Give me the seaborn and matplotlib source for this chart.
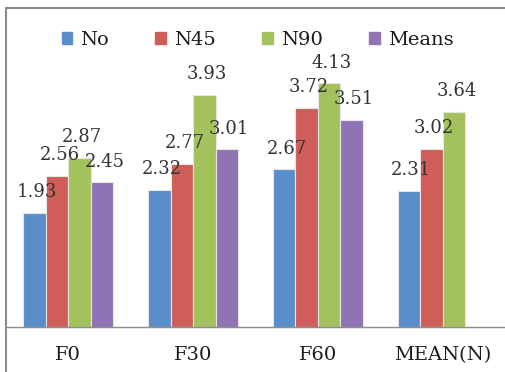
import matplotlib
matplotlib.use("Agg")
import matplotlib.pyplot as plt
import seaborn as sns
import pandas as pd
from matplotlib.patches import Rectangle

groups = ["F0", "F30", "F60", "MEAN(N)"]
series = ["No", "N45", "N90", "Means"]
no_vals = [1.93, 2.32, 2.67, 2.31]
n45_vals = [2.56, 2.77, 3.72, 3.02]
n90_vals = [2.87, 3.93, 4.13, 3.64]
means_vals = [2.45, 3.01, 3.51, None]
colors = ["#5A8ECB", "#CF5E59", "#A3C25E", "#8F73B5"]

rows = []
for s, vals in zip(series, [no_vals, n45_vals, n90_vals, means_vals]):
    for g, v in zip(groups, vals):
        if v is not None:
            rows.append({"group": g, "series": s, "value": v})
df = pd.DataFrame(rows)

sns.set_theme(style="white")
plt.rcParams["font.family"] = ["DejaVu Serif"]

fig = plt.figure(figsize=(5.05, 3.72), dpi=100)
ax = fig.add_axes([6 / 505, (372 - 327) / 372, 1 - 6 / 505, (327 - 32) / 372])

sns.barplot(data=df, x="group", y="value", hue="series", order=groups,
            hue_order=series, palette=colors, width=0.72, ax=ax,
            saturation=1, edgecolor="#e6e6e6", linewidth=0.8, legend=False)

ax.set_ylim(0, 5)
ax.set_xlim(-0.5, 3.5)
ax.set_xlabel("")
ax.set_ylabel("")
ax.set_yticks([])
for sp in ["top", "right", "left"]:
    ax.spines[sp].set_visible(False)
ax.spines["bottom"].set_color("#8c8c8c")
ax.spines["bottom"].set_linewidth(1.0)
ax.tick_params(axis="x", length=0, pad=14, labelsize=14, colors="#1a1a1a")

for cont in ax.containers:
    for bar in cont:
        h = bar.get_height()
        if h and h > 0:
            ax.text(bar.get_x() + bar.get_width() / 2 + 0.02, h + 0.2, f"{h:.2f}",
                    ha="center", va="bottom", fontsize=13, color="#333333")

# legend
handles = [Rectangle((0, 0), 1, 1, color=c) for c in colors]
leg = fig.legend(handles, series, loc="center", bbox_to_anchor=(0.51, 1 - 40 / 372),
                 ncol=4, frameon=False, fontsize=14, handlelength=0.55,
                 handleheight=0.55, handletextpad=0.4, columnspacing=2.4)
for t in leg.get_texts():
    t.set_color("#1a1a1a")

# figure border
fig.patches.append(Rectangle((6 / 505, -0.1), 1.1, (372 - 8) / 372 + 0.1,
                             transform=fig.transFigure, fill=False,
                             edgecolor="#8c8c8c", linewidth=1.5))

fig.savefig("out.png", dpi=100)
